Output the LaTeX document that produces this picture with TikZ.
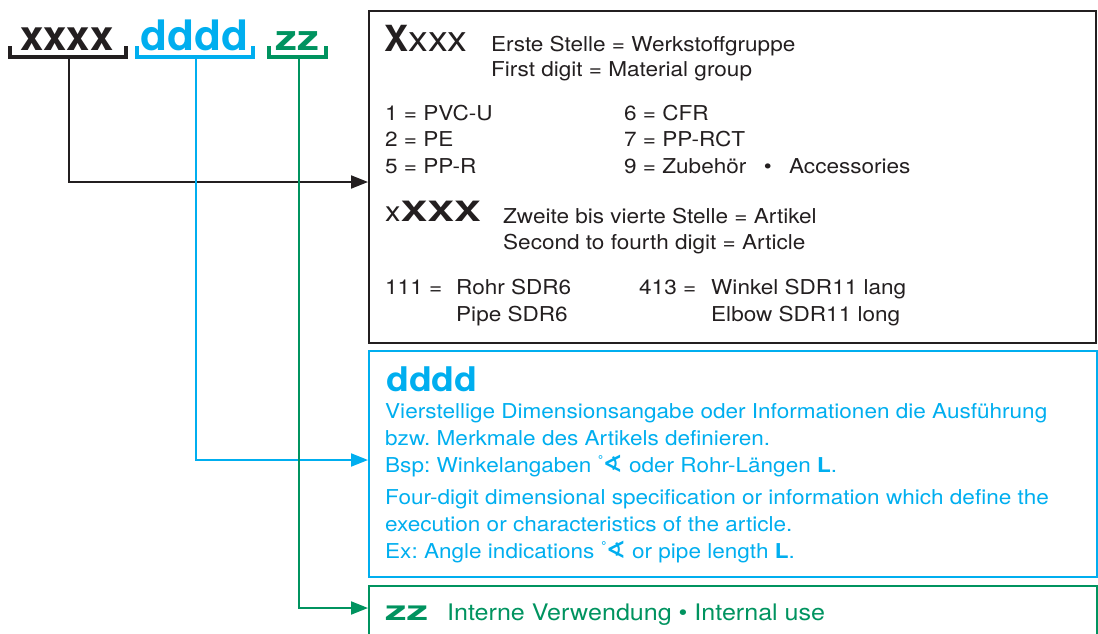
\documentclass[tikz,border=0pt]{standalone}
\usepackage{fontspec}
\usepackage{graphicx}
\setmainfont{TeX Gyre Heros}[FakeStretch=1.1]
\newfontfamily\headfont{TeX Gyre Heros}
\newfontfamily\symfont{DejaVu Sans}
\usepackage{tikz}
\usetikzlibrary{positioning, arrows.meta}
\usepackage{xcolor}

\definecolor{keyblack}{HTML}{231F20}
\definecolor{keycyan}{HTML}{00AEEF}
\definecolor{keygreen}{HTML}{00935F}

\newcommand{\winkel}{{\symfont\raisebox{8pt}{\fontsize{12}{12}\selectfont°}\kern-1pt{\bfseries\fontsize{24}{24}\selectfont ∢}}}

\frenchspacing

\begin{document}
\begin{tikzpicture}[
		x=1pt, y=-1pt,
		txt/.style={
			anchor=base west,
			inner sep=0pt,
			font=\fontsize{20.5}{24}\selectfont
		},
		keybox/.style={
			draw,
			line width=2pt,
			anchor=north west,
			inner sep=0pt
		},
		bracket/.style={line width=3.5pt},
		lead/.style={line width=2pt, -{Triangle[length=17pt, width=13pt]}}
		]
		\useasboundingbox (0,0) rectangle (1098,633);
		
		% --- Code (top left) ---
		\node[txt, text=keyblack, font=\headfont\bfseries\fontsize{42}{42}\selectfont] (xhead) at (20,50) {xxxx};
		\node[txt, text=keycyan, font=\headfont\bfseries\fontsize{42}{42}\selectfont] (dhead) at (140,50) {\scalebox{1.05}[1]{dddd}};
		\node[txt, text=keygreen, font=\headfont\bfseries\fontsize{35}{35}\selectfont] (zhead) at (275,50) {\scalebox{1.25}[1]{zz}};
		
		\draw[bracket, keyblack] (10,46) -- (10,57) -- (126,57) -- (126,46);
		\draw[bracket, keycyan] (137,46) -- (137,57) -- (253,57) -- (253,46);
		\draw[bracket, keygreen] (269,46) -- (269,57) -- (326,57) -- (326,46);
		
		\coordinate (xfoot) at (69,57);
		\coordinate (dfoot) at (196,57);
		\coordinate (zfoot) at (299,57);
		
		% --- Material / article box ---
		\node[keybox, draw=keyblack, minimum width=727pt, minimum height=332pt] (mat) at (368,10) {};
		
		\node[txt, text=keyblack, font=\fontsize{36}{36}\selectfont] (matkey) at (384,51) {{\headfont\bfseries X}xxx};
		\node[txt, text=keyblack] (matde) at (491,51) {Erste Stelle = Werkstoffgruppe};
		\node[txt, text=keyblack] (maten) at (491,76) {First digit = Material group};
		
		\node[txt, text=keyblack] (pvc) at (385,120) {1 = PVC-U};
		\node[txt, text=keyblack] (pe) at (385,146) {2 = PE};
		\node[txt, text=keyblack] (ppr) at (385,173) {5 = PP-R};
		\node[txt, text=keyblack] (cfr) at (624,120) {6 = CFR};
		\node[txt, text=keyblack] (pprct) at (624,146) {7 = PP-RCT};
		\node[txt, text=keyblack] (acc) at (624,173) {9 = Zubehör\hspace{0.85em}•\hspace{0.85em}Accessories};
		
		\node[txt, text=keyblack, font=\fontsize{28}{28}\selectfont] (artkey) at (385,221) {x\scalebox{1.3}[1]{\bfseries XXX}};
		\node[txt, text=keyblack] (artde) at (503,223) {Zweite bis vierte Stelle = Artikel};
		\node[txt, text=keyblack] (arten) at (503,249) {Second to fourth digit = Article};
		
		\node[txt, text=keyblack] (pipeno) at (385,294) {111 =};
		\node[txt, text=keyblack] (pipede) at (456,294) {Rohr SDR6};
		\node[txt, text=keyblack] (pipeen) at (456,321) {Pipe SDR6};
		\node[txt, text=keyblack] (elbno) at (639,294) {413 =};
		\node[txt, text=keyblack] (elbde) at (711,294) {Winkel SDR11 lang};
		\node[txt, text=keyblack] (elben) at (711,321) {Elbow SDR11 long};
		
		% --- Dimension box ---
		\node[keybox, draw=keycyan, minimum width=728pt, minimum height=226pt] (dim) at (368,350) {};
		
		\node[txt, text=keycyan, font=\bfseries\fontsize{34}{34}\selectfont] (dimhead) at (386,391) {dddd};
		\node[txt, text=keycyan] (dimde1) at (385,418) {Vierstellige Dimensionsangabe oder Informationen die Ausführung};
		\node[txt, text=keycyan] (dimde2) at (385,445) {bzw. Merkmale des Artikels definieren.};
		\node[txt, text=keycyan] (dimde3) at (385,472) {Bsp: Winkelangaben \winkel{} oder Rohr-Längen \textbf{L}.};
		\node[txt, text=keycyan] (dimen1) at (385,504) {Four-digit dimensional specification or information which define the};
		\node[txt, text=keycyan] (dimen2) at (385,531) {execution or characteristics of the article.};
		\node[txt, text=keycyan] (dimen3) at (385,558) {Ex: Angle indications \winkel{} or pipe length \textbf{L}.};
		
		% --- Internal use box (cut at the bottom) ---
		\node[keybox, draw=keygreen, minimum width=728pt, minimum height=80pt] (use) at (368,585) {};
		
		\node[txt, text=keygreen, font=\bfseries\fontsize{27}{27}\selectfont] (usehead) at (385,620) {\scalebox{1.45}[1]{zz}};
		\node[txt, text=keygreen, font=\fontsize{22.8}{22.8}\selectfont] (usetext) at (447,620) {Interne Verwendung • Internal use};
		
		% --- Leaders ---
		\draw[lead, keyblack] (xfoot) |- ([yshift=-172pt]mat.north west);
		\draw[lead, keycyan] (dfoot) |- ([yshift=-110pt]dim.north west);
		\draw[lead, keygreen] (zfoot) |- ([yshift=-23pt]use.north west);
		
	\end{tikzpicture}
\end{document}
